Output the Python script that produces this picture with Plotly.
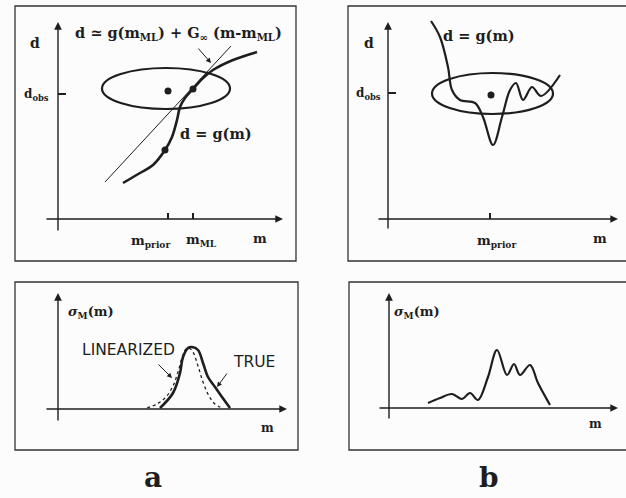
import plotly.graph_objects as go

# ---- curve data (page units: x to the right, y downward) ----
# panel a, top: nonlinear forward relation d = g(m)
g_a_m = [123, 140, 153, 165, 172, 177, 180, 185, 193, 203, 213, 233, 257]
g_a_d = [183, 173, 165, 150, 137, 120, 107, 98, 89, 78, 70, 60, 52]
# tangent (linearised) relation
lin_a_m = [105, 231]
lin_a_d = [182, 46]
# points: prior, maximum likelihood, starting model
pts_a_m = [168, 193, 165]
pts_a_d = [91, 89, 150]

# panel b, top: strongly nonlinear d = g(m)
g_b_m = [431, 440, 448, 452, 460, 475, 483, 493, 502, 510, 516, 523, 532, 541, 560]
g_b_d = [21, 37, 67, 90, 100, 103, 117, 145, 117, 90, 83, 100, 87, 96, 75]
pts_b_m = [491]
pts_b_d = [95]

# panel a, bottom: posterior densities
true_m = [160, 173, 180, 183, 188, 192, 198, 203, 208, 215, 222, 230]
true_s = [408, 393, 373, 357, 348, 347, 350, 363, 377, 387, 397, 408]
linz_m = [147, 157, 166, 173, 178, 182, 186, 189, 193, 198, 203, 209, 215, 222]
linz_s = [408, 404, 397, 386, 372, 358, 349, 348, 352, 366, 382, 396, 404, 408]

# panel b, bottom: multimodal posterior
post_b_m = [428, 440, 452, 462, 470, 478, 488, 497, 507, 514, 520, 530, 538, 550]
post_b_s = [403, 398, 394, 399, 393, 400, 377, 350, 375, 364, 375, 365, 383, 405]

INK = "#1e1e1e"
SERIF = "DejaVu Serif"
SANS = "DejaVu Sans"

fig = go.Figure()

def curve(x, y, w, dash="solid", shape="spline"):
    fig.add_trace(go.Scatter(x=x, y=y, mode="lines",
                             line=dict(color=INK, width=w, dash=dash, shape=shape, smoothing=1.0),
                             hoverinfo="skip", showlegend=False))

curve(lin_a_m, lin_a_d, 1.0, shape="linear")
curve(g_a_m, g_a_d, 2.6)
curve(g_b_m, g_b_d, 2.2)
curve(true_m, true_s, 2.6)
curve(linz_m, linz_s, 1.3, dash="dot")
curve(post_b_m, post_b_s, 2.2)

fig.add_trace(go.Scatter(x=pts_a_m + pts_b_m, y=pts_a_d + pts_b_d, mode="markers",
                         marker=dict(color=INK, size=7), hoverinfo="skip", showlegend=False))

shapes = []
# panel frames
for x0, y0, x1, y1 in [(15, 6, 296, 261), (15, 282, 298, 450),
                       (348, 6, 630, 261), (349, 282, 630, 450)]:
    shapes.append(dict(type="rect", xref="x", yref="y", x0=x0, y0=y0, x1=x1, y1=y1,
                       line=dict(color="#333", width=1.3)))
# error ellipses around (m_prior, d_obs)
shapes.append(dict(type="circle", xref="x", yref="y", x0=102, x1=230, y0=68, y1=109,
                   line=dict(color=INK, width=2.2)))
shapes.append(dict(type="circle", xref="x", yref="y", x0=432, x1=553, y0=73, y1=114,
                   line=dict(color=INK, width=2.2)))
# tick marks
for x0, y0, x1, y1 in [(58, 94, 66, 94), (388, 93, 396, 93),
                       (168, 213, 168, 219), (193, 213, 193, 219), (490, 213, 490, 219)]:
    shapes.append(dict(type="line", xref="x", yref="y", x0=x0, y0=y0, x1=x1, y1=y1,
                       line=dict(color=INK, width=2)))

ann = []
# coordinate axes with arrow heads
for tx, ty, hx, hy in [(58, 232, 58, 22), (45, 219, 283, 219),
                       (388, 230, 388, 22), (377, 219, 618, 219),
                       (58, 422, 58, 293), (45, 409, 287, 409),
                       (389, 420, 389, 293), (378, 408, 618, 408)]:
    ann.append(dict(x=hx, y=hy, ax=tx, ay=ty, xref="x", yref="y", axref="x", ayref="y",
                    text="", showarrow=True, arrowhead=2, arrowsize=1.1, arrowwidth=1.4,
                    arrowcolor=INK))
# pointer arrows
for tx, ty, hx, hy in [(197, 47, 211, 63), (157, 363, 172, 378), (228, 372, 217, 387)]:
    ann.append(dict(x=hx, y=hy, ax=tx, ay=ty, xref="x", yref="y", axref="x", ayref="y",
                    text="", showarrow=True, arrowhead=2, arrowsize=1.0, arrowwidth=1.0,
                    arrowcolor=INK))

def label(x, y, text, size=14, family=SERIF, bold=True):
    ann.append(dict(x=x, y=y, xref="x", yref="y", text=(f"<b>{text}</b>" if bold else text),
                    showarrow=False, font=dict(family=family, size=size, color=INK),
                    xanchor="center", yanchor="middle"))

label(35, 43, "d")
label(36, 95, "d<sub>obs</sub>", size=12)
label(178, 33, "d ≃ g(m<sub>ML</sub>) + G<sub>∞</sub> (m-m<sub>ML</sub>)", size=14.5)
label(216, 133, "d = g(m)", size=14.5)
label(150, 241, "m<sub>prior</sub>", size=13)
label(201, 240, "m<sub>ML</sub>", size=13)
label(260, 238, "m", size=13)

label(369, 43, "d")
label(368, 94, "d<sub>obs</sub>", size=12)
label(479, 35, "d = g(m)", size=14.5)
label(496, 241, "m<sub>prior</sub>", size=13)
label(600, 238, "m", size=13)

label(91, 312, "<i>σ</i><sub>M</sub>(m)", size=13)
label(128, 350, "LINEARIZED", size=15.5, family=SANS, bold=False)
label(254, 362, "TRUE", size=15.5, family=SANS, bold=False)
label(267, 428, "m", size=12)

label(417, 312, "<i>σ</i><sub>M</sub>(m)", size=13)
label(595, 424, "m", size=12)

label(153, 477, "a", size=28)
label(489, 477, "b", size=28)

fig.update_layout(
    width=626, height=498,
    margin=dict(l=0, r=0, t=0, b=0),
    paper_bgcolor="#fcfcfc", plot_bgcolor="#fcfcfc",
    xaxis=dict(range=[0, 626], visible=False, fixedrange=True),
    yaxis=dict(range=[498, 0], visible=False, fixedrange=True),
    shapes=shapes, annotations=ann, showlegend=False,
)

fig.write_html("out.html")
